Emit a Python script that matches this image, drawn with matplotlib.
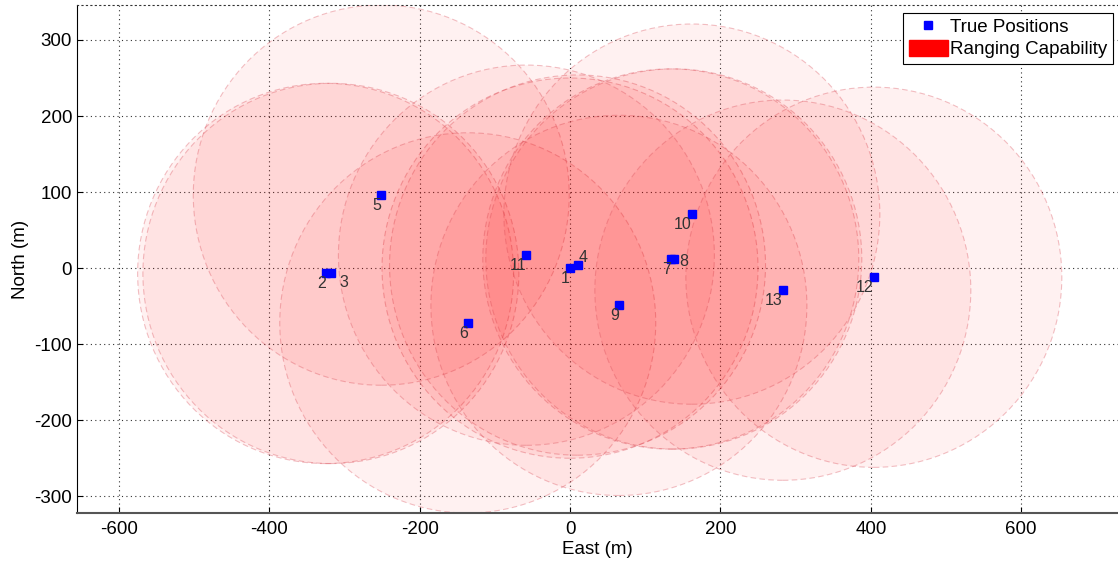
import matplotlib
matplotlib.use("Agg")
import matplotlib.pyplot as plt
from matplotlib.patches import Circle, Patch
from matplotlib.lines import Line2D

plt.rcParams['font.family'] = ['Liberation Sans', 'DejaVu Sans']
plt.rcParams['axes.unicode_minus'] = False

ids = ['1', '2', '3', '4', '5', '6', '7', '8', '9', '10', '11', '12', '13']
east = [0, -325, -318, 10, -251, -136, 134, 138, 65, 162, -58, 404, 283]
north = [0, -7, -7, 4, 96, -72, 12, 12, -49, 71, 17, -12, -29]
ranges = [250] * 13
# label offsets (points) and alignments
offsets = {'3': (6, -1, 'left', 'top'), '4': (1, 0, 'left', 'bottom'),
           '8': (4, -2, 'left', 'center')}

fig = plt.figure(figsize=(11.18, 5.64), dpi=100)
ax = fig.add_axes([77/1118, 51/564, 1 - 77/1118, 508/564])

for e, n, r in zip(east, north, ranges):
    ax.add_patch(Circle((e, n), r, facecolor=(1, 0, 0, 0.055),
                        edgecolor=(0.85, 0.3, 0.35, 0.35), lw=0.8,
                        linestyle=(0, (5, 3)), zorder=1))

ax.plot(east, north, 's', color='#0000ff', markersize=6, zorder=3)
for i, e, n in zip(ids, east, north):
    dx, dy, ha, va = offsets.get(i, (0, -2, 'right', 'top'))
    ax.annotate(i, (e, n), xytext=(dx, dy), textcoords='offset points',
                ha=ha, va=va, fontsize=11.5, color='#333333', zorder=4)

ax.set_xlim(-655.6, 728.7)
ax.set_ylim(-322, 346)
ax.set_xticks([-600, -400, -200, 0, 200, 400, 600])
ax.set_yticks([-300, -200, -100, 0, 100, 200, 300])
ax.tick_params(labelsize=13.5, direction='in', length=4)
ax.tick_params(axis='x', pad=6)
ax.grid(True, linestyle=(0, (1, 3)), color='#333333', lw=0.8)
ax.set_axisbelow(True)
ax.spines['right'].set_visible(False)
ax.spines['top'].set_linestyle((0, (1, 3)))
ax.spines['top'].set_color('#333333')
ax.spines['top'].set_linewidth(0.8)
ax.spines['bottom'].set_color('#555555')
ax.spines['bottom'].set_linewidth(1.5)
ax.set_xlabel('East (m)', fontsize=13.5, labelpad=2)
ax.set_ylabel('North (m)', fontsize=13.5, labelpad=4)

handles = [Line2D([], [], marker='s', color='#0000ff', ls='none', markersize=6),
           Patch(facecolor='red', edgecolor='red')]
leg = ax.legend(handles, ['True Positions', 'Ranging Capability'],
                loc='upper right', bbox_to_anchor=(0.995, 0.985),
                fontsize=13.5, fancybox=False, framealpha=1,
                edgecolor='black', handlelength=2.1, handleheight=0.9,
                handletextpad=0.1, borderpad=0.3, labelspacing=0.2,
                borderaxespad=0)
leg.get_frame().set_linewidth(0.8)

fig.savefig('out.png', dpi=100)
